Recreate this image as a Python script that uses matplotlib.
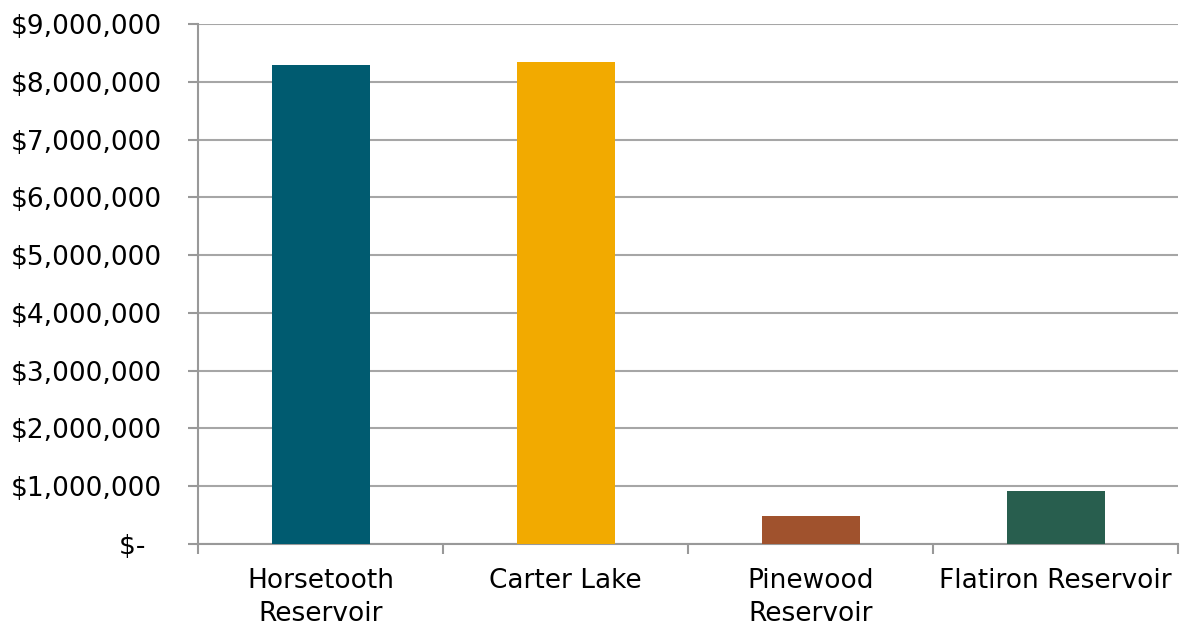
import numpy as np
import matplotlib.pyplot as plt
from matplotlib.ticker import FuncFormatter, FixedLocator

# reservoirs and their values
reservoirs = ['Horsetooth\nReservoir', 'Carter Lake', 'Pinewood\nReservoir', 'Flatiron Reservoir']
values = [8290000, 8345000, 485000, 918000]
colors = ['#005B70', '#F2AA00', '#A0522D', '#285E4E']

plt.rcParams['font.family'] = ['DejaVu Sans']

fig = plt.figure(figsize=(11.8, 6.29), dpi=100)
ax = fig.add_axes([198 / 1180, 1 - 544 / 629, 980 / 1180, 520 / 629])

x = np.arange(len(reservoirs))
ax.bar(x, values, width=0.4, color=colors, zorder=3)

ax.set_xlim(-0.5, len(reservoirs) - 0.5)
ax.set_ylim(0, 9000000)
ax.set_yticks(np.arange(0, 9000001, 1000000))


def money(v, pos):
    if v == 0:
        return '$-  '
    return '${:,.0f}'.format(v)


ax.yaxis.set_major_formatter(FuncFormatter(money))
ax.grid(axis='y', color='#a6a6a6', lw=1.5, zorder=0)

# category labels centred, tick marks at the boundaries
ax.set_xticks(x)
ax.set_xticklabels(reservoirs, fontsize=19, linespacing=1.35)
ax.tick_params(axis='x', which='major', length=0, pad=17)
ax.xaxis.set_minor_locator(FixedLocator(np.arange(-0.5, len(reservoirs), 1.0)))
ax.tick_params(axis='x', which='minor', length=7, width=1.5, color='#999999')
ax.tick_params(axis='y', length=7, width=1.5, color='#999999', labelsize=19, pad=19)

for s in ['top', 'right']:
    ax.spines[s].set_visible(False)
for s in ['left', 'bottom']:
    ax.spines[s].set_color('#999999')
    ax.spines[s].set_linewidth(1.5)

fig.savefig('out.png', dpi=100)
